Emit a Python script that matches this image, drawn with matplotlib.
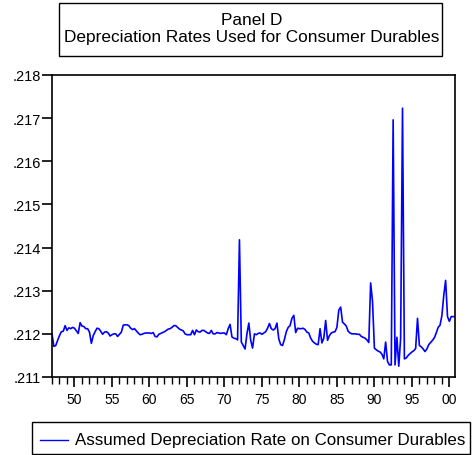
import matplotlib
matplotlib.use("Agg")
import matplotlib.pyplot as plt
from matplotlib.patches import Rectangle
from matplotlib.lines import Line2D
from matplotlib.ticker import FuncFormatter, MultipleLocator
import numpy as np

plt.rcParams['font.family'] = ['Liberation Sans', 'DejaVu Sans']

# Quarterly series, 1947Q1 - 2000Q4
start_year = 1947
depreciation_rate = [
    .21200, .21171, .21173, .21185, .21196, .21205, .21206, .21219, .21208, .21214,
    .21212, .21215, .21213, .21207, .21201, .21226, .21218, .21217, .21212, .21212,
    .21204, .21178, .21196, .21205, .21213, .21212, .21206, .21199, .21204, .21205,
    .21202, .21195, .21198, .21200, .21200, .21194, .21199, .21204, .21220, .21221,
    .21221, .21219, .21213, .21210, .21212, .21207, .21202, .21198, .21199, .21201,
    .21202, .21202, .21202, .21201, .21203, .21194, .21193, .21199, .21201, .21203,
    .21205, .21208, .21211, .21212, .21215, .21219, .21219, .21215, .21211, .21209,
    .21207, .21200, .21198, .21198, .21198, .21208, .21198, .21209, .21205, .21204,
    .21208, .21208, .21205, .21202, .21201, .21208, .21200, .21200, .21203, .21202,
    .21201, .21202, .21202, .21198, .21212, .21222, .21193, .21190, .21189, .21186,
    .21418, .21181, .21173, .21165, .21200, .21225, .21185, .21167, .21200, .21198,
    .21201, .21202, .21199, .21202, .21205, .21213, .21224, .21212, .21209, .21212,
    .21225, .21188, .21175, .21173, .21187, .21205, .21215, .21219, .21236, .21243,
    .21203, .21213, .21212, .21212, .21213, .21210, .21204, .21202, .21190, .21183,
    .21179, .21176, .21175, .21212, .21179, .21190, .21231, .21185, .21196, .21202,
    .21204, .21205, .21215, .21255, .21262, .21227, .21223, .21218, .21206, .21202,
    .21200, .21200, .21200, .21199, .21199, .21194, .21192, .21190, .21186, .21180,
    .21318, .21275, .21167, .21163, .21160, .21158, .21153, .21142, .21181, .21136,
    .21128, .21128, .21696, .21128, .21192, .21125, .21190, .21723, .21142, .21144,
    .21150, .21154, .21158, .21161, .21166, .21236, .21173, .21170, .21165, .21159,
    .21165, .21175, .21180, .21185, .21191, .21202, .21215, .21220, .21242, .21289,
    .21324, .21240, .21229, .21240, .21240, .21240,
]
periods = start_year + np.arange(len(depreciation_rate)) / 4.0

x_tick_years = [1950, 1955, 1960, 1965, 1970, 1975, 1980, 1985, 1990, 1995, 2000]
x_tick_labels = ["50", "55", "60", "65", "70", "75", "80", "85", "90", "95", "00"]
y_ticks = [.211, .212, .213, .214, .215, .216, .217, .218]

title_lines = "Panel D\nDepreciation Rates Used for Consumer Durables"
legend_label = "Assumed Depreciation Rate on Consumer Durables"

W, H = 473, 456
fig = plt.figure(figsize=(W / 100, H / 100), dpi=100)

def px(x0, y0, x1, y1):
    # pixel box (top-left origin) -> figure fraction rect
    return [x0 / W, 1 - y1 / H, (x1 - x0) / W, (y1 - y0) / H]

ax = fig.add_axes(px(52, 76, 455, 378))
ax.plot(periods, depreciation_rate, color=(0, 0, 1), linewidth=1.2)
ax.set_xlim(start_year, periods[-1])
ax.set_ylim(.211, .218)

ax.set_yticks(y_ticks)
ax.yaxis.set_major_formatter(FuncFormatter(lambda v, p: ("%.3f" % v).lstrip("0")))
ax.set_xticks(x_tick_years)
ax.set_xticklabels(x_tick_labels)
ax.xaxis.set_minor_locator(MultipleLocator(1))

for s in ax.spines.values():
    s.set_linewidth(1.2)
    s.set_color('black')
ax.tick_params(axis='y', which='both', left=True, right=False, direction='out',
               length=7.2, width=1.2, labelsize=10.5, pad=1)
ax.tick_params(axis='x', which='major', bottom=True, top=False, direction='out',
               length=7.2, width=1.2, labelsize=10, pad=3.5)
ax.tick_params(axis='x', which='minor', bottom=True, top=False, direction='out',
               length=5, width=1.0)

# Title box
fig.patches.append(Rectangle((59 / W, 1 - 57 / H), (442 - 59) / W, (57 - 4) / H,
                             transform=fig.transFigure, fill=False,
                             edgecolor='black', linewidth=1.0))
fig.text(252 / W, 1 - 29 / H, title_lines, ha='center', va='center',
         fontsize=12.4, linespacing=1.1)

# Legend box
fig.patches.append(Rectangle((32 / W, 1 - 455 / H), (470 - 32) / W, (455 - 423) / H,
                             transform=fig.transFigure, fill=False,
                             edgecolor='black', linewidth=1.0))
fig.lines.append(Line2D([40 / W, 68 / W], [1 - 441 / H, 1 - 441 / H],
                        transform=fig.transFigure, color=(0, 0, 1), linewidth=1.0))
fig.text(75 / W, 1 - 441 / H, legend_label, ha='left', va='center', fontsize=12.2)

fig.savefig("out.png", dpi=100)
